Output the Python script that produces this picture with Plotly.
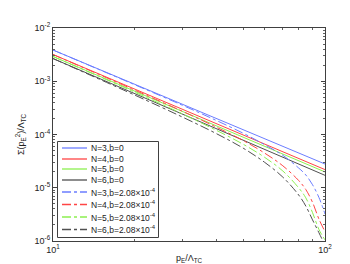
import plotly.graph_objects as go

# x values (p_E / Lambda_TC)
p_solid = [10, 100]
p_dash = [10, 20, 30, 40, 50, 60, 70, 80, 85, 90, 95, 100]

# b = 0 series (straight lines on log-log)
s_N3 = [3.86e-3, 2.79e-5]
s_N4 = [3.18e-3, 2.19e-5]
s_N5 = [2.92e-3, 1.98e-5]
s_N6 = [2.67e-3, 1.71e-5]

# b = 2.08e-4 series
d_N3 = [3.86e-3, 8.57e-4, 3.52e-4, 1.82e-4, 1.058e-4, 6.43e-5, 4.06e-5, 2.35e-5, 1.74e-5, 1.137e-5, 6.57e-6, 3.21e-6]
d_N4 = [3.18e-3, 6.80e-4, 2.71e-4, 1.363e-4, 7.72e-5, 4.47e-5, 2.58e-5, 1.37e-5, 9.26e-6, 5.31e-6, 2.58e-6, 1.50e-6]
d_N5 = [2.92e-3, 6.21e-4, 2.42e-4, 1.187e-4, 6.57e-5, 3.72e-5, 2.06e-5, 9.98e-6, 6.47e-6, 3.40e-6, 1.65e-6, 1.045e-6]
d_N6 = [2.67e-3, 5.48e-4, 2.11e-4, 1.03e-4, 5.55e-5, 3.00e-5, 1.58e-5, 7.32e-6, 4.53e-6, 2.49e-6, 1.43e-6, 8.3e-7]

# tick labels
x_tickvals = [10, 100]
x_ticktext = ["10<sup>1</sup>", "10<sup>2</sup>"]
y_tickvals = [1e-6, 1e-5, 1e-4, 1e-3, 1e-2]
y_ticktext = ["10<sup>-6</sup>", "10<sup>-5</sup>", "10<sup>-4</sup>", "10<sup>-3</sup>", "10<sup>-2</sup>"]
x_minor = [20, 30, 40, 50, 60, 70, 80, 90]
y_minor = [m * 10.0 ** e for e in range(-6, -2) for m in range(2, 10)]

names_solid = ["N=3,b=0", "N=4,b=0", "N=5,b=0", "N=6,b=0"]
names_dash = ["N=3,b=2.08×10<sup>-4</sup>", "N=4,b=2.08×10<sup>-4</sup>",
              "N=5,b=2.08×10<sup>-4</sup>", "N=6,b=2.08×10<sup>-4</sup>"]
colors = ["#6b7dff", "#ff4545", "#8cf050", "#505050"]

FONT = "Liberation Sans"
W, H = 350, 264
ML, MR, MT, MB = 45, 33, 20, 31
PW, PH = W - ML - MR, H - MT - MB

def px_to_paper(xp, yp):
    return (xp - ML) / PW, (H - MB - yp) / PH

fig = go.Figure()
for name, ys, c in zip(names_solid, [s_N3, s_N4, s_N5, s_N6], colors):
    fig.add_trace(go.Scatter(x=p_solid, y=ys, mode="lines", name=name,
                             line=dict(color=c, width=1), showlegend=False))
for name, ys, c in zip(names_dash, [d_N3, d_N4, d_N5, d_N6], colors):
    fig.add_trace(go.Scatter(x=p_dash, y=ys, mode="lines", name=name, showlegend=False,
                             line=dict(color=c, width=1, dash="dashdot", shape="spline")))

tickfont = dict(size=9, color="#222", family=FONT)
axis_common = dict(type="log", showline=True, linecolor="#404040", linewidth=1,
                   mirror="ticks", ticks="inside", ticklen=4, tickcolor="#404040",
                   showgrid=False, zeroline=False, tickmode="array",
                   tickfont=tickfont)

fig.update_xaxes(range=[1, 2], tickvals=x_tickvals, ticktext=x_ticktext,
                 minor=dict(ticks="inside", ticklen=2, tickcolor="#606060",
                            tickmode="array", tickvals=x_minor, showgrid=False),
                 **axis_common)
fig.update_yaxes(range=[-6, -2], tickvals=y_tickvals, ticktext=y_ticktext,
                 minor=dict(ticks="inside", ticklen=2, tickcolor="#606060",
                            tickmode="array", tickvals=y_minor, showgrid=False),
                 title=dict(text="Σ(p<sub>E</sub><sup>2</sup>)/Λ<sub>TC</sub>", font=tickfont, standoff=8),
                 **axis_common)

# x-axis title as annotation
xx, xy = px_to_paper(181, 251)
annotations = [dict(text="p<sub>E</sub>/Λ<sub>TC</sub>", xref="paper", yref="paper",
                    x=xx, y=xy, showarrow=False, font=tickfont,
                    xanchor="center", yanchor="middle")]
shapes = []

# custom compact legend (MATLAB-like)
bx0, by1 = px_to_paper(49.5, 133.5)
bx1, by0 = px_to_paper(150.5, 229.5)
shapes.append(dict(type="rect", xref="paper", yref="paper", x0=bx0, x1=bx1, y0=by0, y1=by1,
                   line=dict(color="#404040", width=1), fillcolor="white", layer="above"))
row_y = [140, 151, 161, 172, 184, 196.5, 209, 221.5]
entries = [(n, c, "solid") for n, c in zip(names_solid, colors)] + \
          [(n, c, "dashdot") for n, c in zip(names_dash, colors)]
for (name, c, dash), ry in zip(entries, row_y):
    lx0, ly = px_to_paper(54, ry)
    lx1, _ = px_to_paper(79, ry)
    shapes.append(dict(type="line", xref="paper", yref="paper", x0=lx0, x1=lx1, y0=ly, y1=ly,
                       line=dict(color=c, width=1.3, dash=dash), layer="above"))
    tx, ty = px_to_paper(81, ry)
    annotations.append(dict(text=name, xref="paper", yref="paper", x=tx, y=ty,
                            xanchor="left", yanchor="middle", showarrow=False,
                            font=dict(size=8.5, color="#222", family=FONT)))

fig.update_layout(
    width=W, height=H,
    margin=dict(l=ML, r=MR, t=MT, b=MB),
    paper_bgcolor="white", plot_bgcolor="white",
    showlegend=False,
    annotations=annotations, shapes=shapes,
)

fig.write_html("out.html")
